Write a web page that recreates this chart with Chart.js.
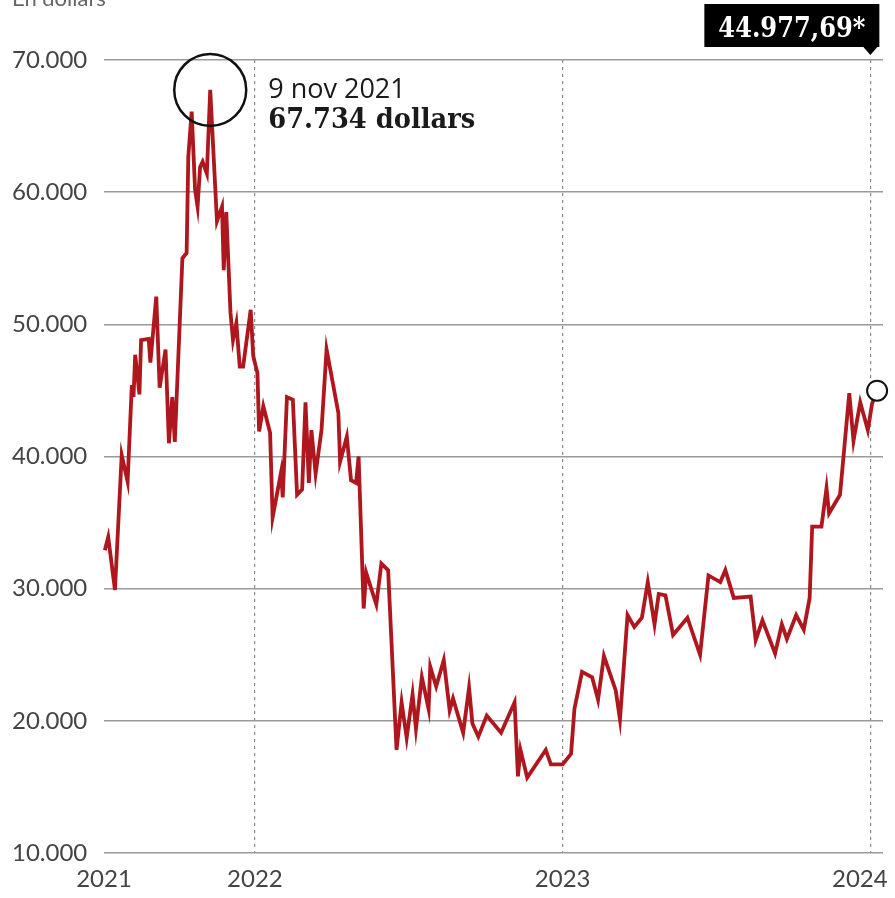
<!DOCTYPE html>
<html>
<head>
<meta charset="utf-8">
<script src="https://cdn.jsdelivr.net/npm/chart.js@4"></script>
<style>
  body { margin: 0; background: #fff; }
  #wrap { width: 895px; height: 898px; position: relative; }
</style>
</head>
<body>
<div id="wrap"><canvas id="btc"></canvas></div>
<script>
// days counted from 1 Jan 2021, price in dollars
const days = [187,191,199,207,214,219,221,223,228,230,239,241,248,252,259,263,267,270,279,284,286,290,294,297,300,303,308,312,320,326,328,331,336,339,343,347,351,360,363,368,370,375,383,386,396,398,403,410,415,421,425,429,432,437,444,450,464,466,474,479,485,488,494,497,509,515,523,533,539,545,552,556,563,571,573,580,589,596,600,612,619,623,630,640,657,673,677,680,688,710,716,730,740,744,753,765,772,779,793,798,807,815,824,831,839,844,852,861,878,893,903,917,923,933,953,959,967,982,990,996,1007,1016,1023,1026,1037,1043,1046,1059,1070,1075,1083,1092,1097,1103];
const prices = [32900,33900,29900,40100,38100,45400,44500,47700,44700,48800,48900,47100,52100,45200,48100,41000,44500,41100,55000,55400,62700,66100,60200,58900,61900,62300,61400,67734,57800,58900,54100,58500,50900,48800,50100,46800,46800,51100,47600,46300,41900,43800,41800,35400,38800,36900,44500,44300,37100,37500,44100,38000,42000,38700,42000,48100,43300,39600,41500,38200,38000,40000,28500,31200,28800,31900,31400,17800,21400,18700,22000,19400,23300,20900,24100,22600,24600,20800,21700,19100,22500,19800,18800,20400,19100,21400,15800,17800,15700,17800,16700,16700,17500,20900,23700,23300,21600,24900,22300,20100,28000,27100,27800,30500,27300,29600,29500,26500,27800,25000,31000,30500,31400,29300,29400,26100,27600,25100,27300,26200,28000,26900,29300,34700,34700,37600,35700,37100,44800,41200,44100,42000,44000,44977.69];

const yearTicks = [186, 365, 730, 1095];
const yearLabels = ['2021', '2022', '2023', '2024'];
const peakLabel = '9 nov 2021';
const unitLabel = 'En dollars';

const thousands = (v) => String(Math.round(v)).replace(/\B(?=(\d{3})+(?!\d))/g, '.');
const euroStyle = (v) => {
  const [a, b] = v.toFixed(2).split('.');
  return thousands(Number(a)) + ',' + b;
};

const notes = {
  id: 'notes',
  afterDatasetsDraw(chart) {
    const { ctx, scales: { x } } = chart;
    const pts = chart.getDatasetMeta(0).data;
    const peakIdx = prices.indexOf(Math.max(...prices));
    const peak = pts[peakIdx];
    ctx.save();

    // ring round the all-time high
    ctx.beginPath();
    ctx.arc(peak.x, peak.y, 36, 0, Math.PI * 2);
    ctx.lineWidth = 2.5;
    ctx.strokeStyle = '#111';
    ctx.stroke();

    ctx.fillStyle = '#1a1a1a';
    ctx.textAlign = 'left';
    ctx.textBaseline = 'alphabetic';
    ctx.font = '27px "Open Sans"';
    ctx.fillText(peakLabel, peak.x + 58, peak.y + 8);
    ctx.font = 'bold 27px "DejaVu Serif"';
    ctx.fillText(thousands(prices[peakIdx]) + ' dollars', peak.x + 58, peak.y + 38, 207);

    // black flag with the latest price
    const tipX = x.getPixelForValue(yearTicks[3]);
    const right = tipX + 9, left = right - 175, top = 4, bottom = 47;
    ctx.fillStyle = '#000';
    ctx.fillRect(left, top, right - left, bottom - top);
    ctx.beginPath();
    ctx.moveTo(tipX - 7, bottom);
    ctx.lineTo(tipX + 7, bottom);
    ctx.lineTo(tipX, bottom + 8);
    ctx.closePath();
    ctx.fill();
    ctx.fillStyle = '#fff';
    ctx.textAlign = 'center';
    ctx.font = 'bold 28px "DejaVu Serif"';
    ctx.fillText(euroStyle(prices[prices.length - 1]) + '*', (left + right) / 2, 37, 147);

    // unit line, mostly cut off at the top
    ctx.fillStyle = '#666';
    ctx.textAlign = 'left';
    ctx.font = '22px Lato';
    ctx.fillText(unitLabel, 12, 6);
    ctx.restore();
  }
};

const last = prices.length - 1;

new Chart(document.getElementById('btc'), {
  type: 'line',
  data: {
    datasets: [{
      data: days.map((d, i) => ({ x: d, y: prices[i] })),
      borderColor: '#ae171d',
      borderWidth: 3.8,
      tension: 0,
      clip: false,
      pointRadius: (c) => (c.dataIndex === last ? 10 : 0),
      pointBackgroundColor: '#fff',
      pointBorderColor: '#111',
      pointBorderWidth: 2,
    }],
  },
  options: {
    responsive: true,
    maintainAspectRatio: false,
    animation: false,
    events: [],
    layout: { padding: { left: 12, right: 10, top: 60, bottom: 0 } },
    plugins: { legend: { display: false }, tooltip: { enabled: false } },
    scales: {
      x: {
        type: 'linear',
        min: 186,
        max: 1110,
        afterBuildTicks: (scale) => { scale.ticks = yearTicks.map((v) => ({ value: v })); },
        afterFit: (scale) => {
          scale.height = 45;
          scale.paddingLeft = 0;
          scale.paddingRight = 0;
        },
        ticks: {
          // last year label pulled left a little so it stays inside the canvas
          callback: (v) => {
            const i = yearTicks.indexOf(v);
            return i === yearTicks.length - 1 ? yearLabels[i] + '\u2003\u2009' : yearLabels[i];
          },
          font: { family: 'Lato', size: 24 },
          color: '#444',
          padding: 12,
          maxRotation: 0,
          autoSkip: false,
        },
        grid: {
          color: (c) => (c.index === 0 ? 'rgba(0,0,0,0)' : '#8a8a8a'),
          lineWidth: 1.2,
          drawTicks: false,
        },
        border: { display: false, dash: [3, 4] },
      },
      y: {
        min: 10000,
        max: 70000,
        afterFit: (scale) => {
          scale.width = 92;
          scale.paddingTop = 0;
          scale.paddingBottom = 0;
        },
        ticks: {
          stepSize: 10000,
          callback: (v) => thousands(v),
          font: { family: 'Lato', size: 24 },
          color: '#444',
          crossAlign: 'far',
        },
        grid: { color: '#9a9a9a', lineWidth: 1.5, drawTicks: false },
        border: { display: false },
      },
    },
  },
  plugins: [notes],
});
</script>
</body>
</html>
